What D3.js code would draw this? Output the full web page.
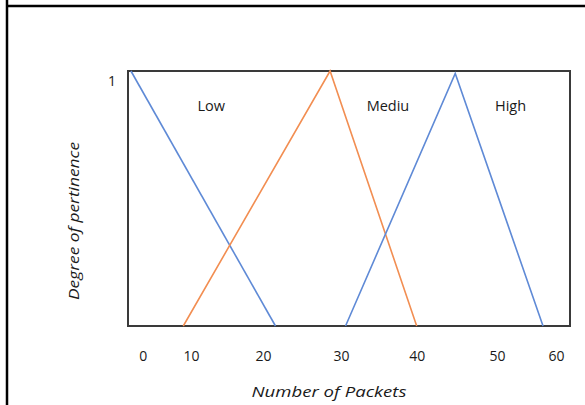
<!DOCTYPE html>
<html><head><meta charset="utf-8">
<script src="https://cdn.jsdelivr.net/npm/d3@7"></script>
<style>body{margin:0;background:#fff}svg{display:block}text{font-family:"Open Sans","Noto Sans",sans-serif;fill:#1a1a1a}</style>
</head><body>
<script>
// tick labels on the x axis (the original places them unevenly)
const xTicks = [0, 10, 20, 30, 40, 50, 60];
const xTickPx = [142.7, 191, 263, 341, 416.7, 497, 556];
const yTicks = [1];
// membership functions (x in packets, y in degree)
const lowX = [-2.4, 21.6], lowY = [1, 0];
const medX = [8.4, 28.6, 40.0], medY = [0, 1, 0];
const highX = [30.6, 44.8, 57.8], highY = [0, 0.99, 0];
const setNames = ["Low", "Mediu", "High"];
const setLabelX = [12.8, 36.2, 52.3];

const W = 585, H = 405;
const svg = d3.select("body").append("svg").attr("width", W).attr("height", H);

// piecewise linear x scale fitted to the labels of the drawing
const x = d3.scaleLinear().domain([-3, ...xTicks, 62.4]).range([128, ...xTickPx, 570]);
const y = d3.scaleLinear().domain([0, 1]).range([326, 71]);

// outer page frame
svg.append("line").attr("x1", 7).attr("x2", W).attr("y1", 6).attr("y2", 6).attr("stroke", "#000").attr("stroke-width", 2.5);
svg.append("line").attr("x1", 7).attr("x2", 7).attr("y1", 0).attr("y2", H).attr("stroke", "#000").attr("stroke-width", 2.5);

// plot frame
svg.append("rect").attr("x", x(-3)).attr("y", y(1)).attr("width", x(62.4) - x(-3)).attr("height", y(0) - y(1))
  .attr("fill", "none").attr("stroke", "#3a3a3a").attr("stroke-width", 2);

const line = d3.line().x(d => x(d[0])).y(d => y(d[1]));
const series = [
  {xs: lowX, ys: lowY, c: "#5f8ad6"},
  {xs: medX, ys: medY, c: "#f28e52"},
  {xs: highX, ys: highY, c: "#5f8ad6"}
];
series.forEach(s => {
  svg.append("path").attr("d", line(s.xs.map((v, i) => [v, s.ys[i]])))
    .attr("fill", "none").attr("stroke", s.c).attr("stroke-width", 1.6);
});

// set names
svg.selectAll("text.set").data(setNames).join("text").attr("class", "set")
  .attr("x", (d, i) => x(setLabelX[i])).attr("y", y(0.845))
  .attr("text-anchor", "middle").attr("font-size", 14.5).text(d => d);

// x axis tick labels
const xAxis = d3.axisBottom(x).tickValues(xTicks).tickSize(0).tickPadding(0);
const gx = svg.append("g").attr("transform", `translate(0,${y(0) + 25})`).call(xAxis);
gx.select(".domain").remove();
gx.selectAll("text").attr("font-size", 14).attr("font-family", "Open Sans").attr("fill", "#1a1a1a");

// y tick label
const yAxis = d3.axisLeft(y).tickValues(yTicks).tickFormat(d3.format("d")).tickSize(0).tickPadding(0);
const gy = svg.append("g").attr("transform", `translate(${x(-3) - 12},10)`).call(yAxis);
gy.select(".domain").remove();
gy.selectAll("text").attr("font-size", 14).attr("font-family", "Open Sans").attr("fill", "#1a1a1a");

// axis titles
svg.append("text").attr("x", 329).attr("y", 397).attr("text-anchor", "middle")
  .attr("font-size", 15).attr("font-style", "italic")
  .attr("textLength", 155).attr("lengthAdjust", "spacingAndGlyphs").text("Number of Packets");
svg.append("text").attr("transform", "translate(79,221) rotate(-90)").attr("text-anchor", "middle")
  .attr("font-size", 15).attr("font-style", "italic")
  .attr("textLength", 158).attr("lengthAdjust", "spacingAndGlyphs").text("Degree of pertinence");
</script>
</body></html>
